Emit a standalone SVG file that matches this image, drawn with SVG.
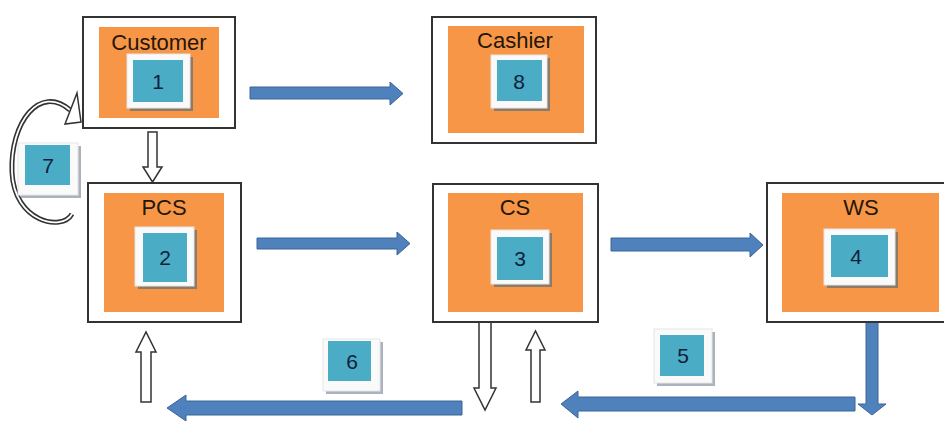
<svg xmlns="http://www.w3.org/2000/svg" width="944" height="421" viewBox="0 0 944 421">
<style>
.frame{fill:#fff;stroke:#333;stroke-width:2}
.orange{fill:#F79646}
.shadow{fill:#8c7b68}
.lshadow{fill:#aab3bd}
.wsq{fill:#fafafa;stroke:#e6e6e6;stroke-width:1}
.blue{fill:#4BACC6}
.title{font-family:"Liberation Sans",Arial,sans-serif;font-size:22px;fill:#24160b;text-anchor:middle}
.num{font-family:"Liberation Sans",Arial,sans-serif;font-size:21px;fill:#10203a;text-anchor:middle}
.barrow{fill:#4F81BD;stroke:#3A6496;stroke-width:1}
.warrow{fill:#fff;stroke:#333;stroke-width:1.5;stroke-linejoin:miter}
</style>
<rect width="944" height="421" fill="#fff"/>

<g id="connectors">
<path class="barrow" d="M250,87 H390 V82 L403,93.5 L390,105 V99 H250 Z"/>
<path class="barrow" d="M257,238 H397 V232 L410,243.5 L397,255 V249 H257 Z"/>
<path class="barrow" d="M611,238 H750 V233 L763,245 L750,257 V251 H611 Z"/>
<path class="barrow" d="M866,322 H878 V404 H886 L872,415 L858,404 H866 Z"/>
<path class="barrow" d="M855,397 V411 H578 V418 L561,404 L578,391 V397 Z"/>
<path class="barrow" d="M462,401 V415 H186 V421 L167,408 L186,395 V401 Z"/>
<path class="warrow" d="M148,132 H157 V167 H162 L152.5,182 L143,167 H148 Z"/>
<path class="warrow" d="M141,402 V352 H136 L146,332 L156,352 H151 V402 Z"/>
<path class="warrow" d="M479,322 V388 H474 L485,410 L496,388 H491 V322 Z"/>
<path class="warrow" d="M531,402 V350 H526 L535.5,331 L545,350 H540 V402 Z"/>
<path d="M72,214 C62,232 14,222 12,172 C10,122 40,84 70,110" fill="none" stroke="#333" stroke-width="5"/>
<path d="M72,214 C62,232 14,222 12,172 C10,122 40,84 70,110" fill="none" stroke="#fff" stroke-width="1.8"/>
<polygon class="warrow" points="77,93 81,122 65,124"/>
</g>

<g id="customer">
<rect class="frame" x="83" y="17" width="152" height="111"/>
<rect class="orange" x="99" y="27" width="120" height="91"/>
<text class="title" x="159" y="50">Customer</text>
<rect class="shadow" x="130" y="57" width="63" height="54"/>
<rect class="wsq" x="127" y="54" width="63" height="54"/>
<rect class="blue" x="133" y="60" width="50" height="42"/>
<text class="num" x="158" y="89">1</text>
</g>

<g id="cashier">
<rect class="frame" x="432" y="17" width="164" height="126"/>
<rect class="orange" x="448" y="26" width="136" height="107"/>
<text class="title" x="515" y="48">Cashier</text>
<rect class="shadow" x="494" y="58" width="56" height="53"/>
<rect class="wsq" x="491" y="55" width="56" height="53"/>
<rect class="blue" x="497" y="60" width="45" height="41"/>
<text class="num" x="519" y="89">8</text>
</g>

<g id="pcs">
<rect class="frame" x="88" y="183" width="153" height="139"/>
<rect class="orange" x="104" y="193" width="120" height="119"/>
<text class="title" x="164" y="215">PCS</text>
<rect class="shadow" x="138" y="230" width="59" height="59"/>
<rect class="wsq" x="135" y="227" width="59" height="59"/>
<rect class="blue" x="143" y="233" width="44" height="49"/>
<text class="num" x="165" y="265">2</text>
</g>

<g id="cs">
<rect class="frame" x="433" y="184" width="165" height="138"/>
<rect class="orange" x="448" y="193" width="135" height="119"/>
<text class="title" x="515" y="215">CS</text>
<rect class="shadow" x="494" y="233" width="58" height="54"/>
<rect class="wsq" x="491" y="230" width="58" height="54"/>
<rect class="blue" x="497" y="237" width="46" height="43"/>
<text class="num" x="520" y="266">3</text>
</g>

<g id="ws">
<rect class="frame" x="767" y="183" width="180" height="139"/>
<rect class="orange" x="782" y="193" width="157" height="119"/>
<text class="title" x="861" y="215">WS</text>
<rect class="shadow" x="827" y="232" width="71" height="56"/>
<rect class="wsq" x="824" y="229" width="71" height="56"/>
<rect class="blue" x="831" y="235" width="57" height="42"/>
<text class="num" x="856" y="264">4</text>
</g>

<g id="label5">
<rect class="lshadow" x="657" y="332" width="58" height="54"/>
<rect class="wsq" x="654" y="329" width="58" height="54"/>
<rect class="blue" x="660" y="335" width="44" height="41"/>
<text class="num" x="683" y="363">5</text>
</g>

<g id="label6">
<rect class="lshadow" x="326" y="342" width="57" height="52"/>
<rect class="wsq" x="323" y="339" width="57" height="52"/>
<rect class="blue" x="328" y="341" width="43" height="40"/>
<text class="num" x="352" y="369">6</text>
</g>

<g id="label7">
<rect class="lshadow" x="21" y="146" width="60" height="52"/>
<rect class="wsq" x="18" y="143" width="60" height="52"/>
<rect class="blue" x="25" y="145" width="45" height="40"/>
<text class="num" x="48" y="173">7</text>
</g>
</svg>
